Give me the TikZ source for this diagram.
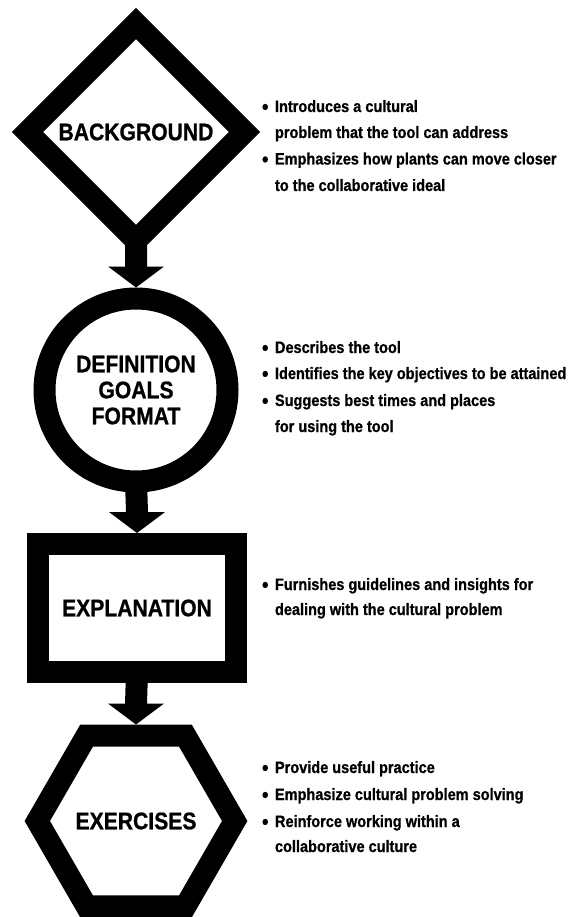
\documentclass[tikz,border=0pt]{standalone}
\usepackage{fontspec}
\usetikzlibrary{shapes.geometric,calc}
\newfontfamily\condfont{Liberation Sans}[FakeStretch=0.88,FakeBold=0.8]
\newcommand\bul{\makebox[13pt][l]{\fontsize{21}{21}\selectfont\raisebox{-1.9pt}{•}}}
\newcommand\bigarrow[2]{%
  \fill[black] ($(#1)+(-11,0)$) -- ($(#2)+(-11,-32)$) -- ($(#2)+(-28,-32)$)
    -- ($(#2)+(0,-11)$) -- ($(#2)+(28,-32)$) -- ($(#2)+(11,-32)$)
    -- ($(#1)+(11,0)$) -- cycle;}
\tikzset{
  shp/.style={draw=black, line width=22pt, fill=white, inner sep=0pt, outer sep=0pt,
    font=\condfont\bfseries\fontsize{24}{26}\selectfont, align=center},
  body/.style={anchor=base west, inner sep=0pt, outer sep=0pt,
    font=\condfont\bfseries\fontsize{16.5}{26}\selectfont, text=black},
}
\begin{document}
\begin{tikzpicture}[x=1pt,y=-1pt]
\useasboundingbox (0,0) rectangle (574,917);
% shapes
\node[shp, diamond, aspect=1, minimum width=217pt, minimum height=217pt] (bg) at (136,132) {BACKGROUND};
\node[shp, circle, minimum size=183pt] (def) at (136,390) {DEFINITION\\GOALS\\FORMAT};
\node[shp, rectangle, minimum width=198pt, minimum height=128pt] (exp) at (137,608) {EXPLANATION};
\node[shp, regular polygon, regular polygon sides=6, minimum size=192.6pt] (exr) at (136,821) {EXERCISES};
% connectors
\bigarrow{bg.south}{def.north}
\bigarrow{def.south}{exp.north}
\bigarrow{exp.south}{exr.north}
% texts
\node[body] (t1a) at (262,112) {\bul Introduces a cultural};
\node[body] (t1b) at (275,138) {problem that the tool can address};
\node[body] (t1c) at (262,164.5) {\bul Emphasizes how plants can move closer};
\node[body] (t1d) at (275,191) {to the collaborative ideal};
\node[body] (t2a) at (262,353) {\bul Describes the tool};
\node[body] (t2b) at (262,379) {\bul Identifies the key objectives to be attained};
\node[body] (t2c) at (262,406) {\bul Suggests best times and places};
\node[body] (t2d) at (275,432) {for using the tool};
\node[body] (t3a) at (262,590) {\bul Furnishes guidelines and insights for};
\node[body] (t3b) at (275,615) {dealing with the cultural problem};
\node[body] (t4a) at (262,773) {\bul Provide useful practice};
\node[body] (t4b) at (262,800) {\bul Emphasize cultural problem solving};
\node[body] (t4c) at (262,827) {\bul Reinforce working within a};
\node[body] (t4d) at (275,852) {collaborative culture};
\end{tikzpicture}
\end{document}
